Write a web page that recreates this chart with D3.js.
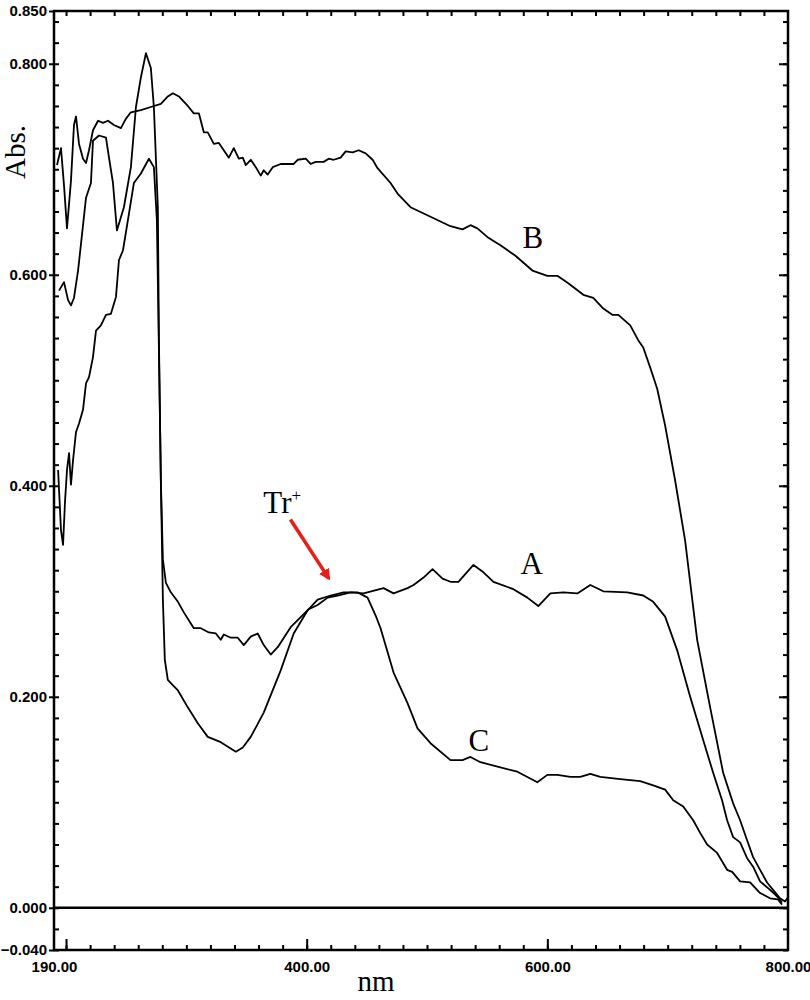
<!DOCTYPE html>
<html>
<head>
<meta charset="utf-8">
<script src="https://cdn.jsdelivr.net/npm/d3@7"></script>
<style>
  html, body { margin: 0; padding: 0; background: #fff; }
  svg { display: block; }
</style>
</head>
<body>
<svg id="chart" width="810" height="1000"></svg>
<script>
// ---------------- DATA ----------------
const yMajorTicks = [-0.04, 0.0, 0.2, 0.4, 0.6, 0.8, 0.85];
const xLabelTicks = [190, 400, 600, 800];
const xMajorMarks = [200, 400, 600];

// Curve B (upper)
const nmB = [192.5,195.8,198.3,200.8,204.1,206.6,208.3,210.8,214.1,216.6,219.1,222.4,226.6,230.7,234.9,239.8,245.6,249.8,253.9,262.2,270.5,278.8,284.6,288.8,293.8,301.2,306.2,310.4,314.5,317.8,322.8,327.0,335.3,339.4,343.6,346.9,349.4,353.5,357.7,361.8,364.3,367.6,371.8,378.4,389.2,392.5,399.2,403.3,407.5,414.1,418.3,422.4,428.2,432.4,438.2,443.2,449.0,454.8,458.9,469.7,475.5,486.3,502.9,519.5,529.5,536.1,541.9,551.0,561.0,573.5,587.6,600.0,608.3,617.4,629.9,638.2,646.5,654.0,659.0,668.9,675.5,679.7,685.5,691.3,697.9,706.2,714.5,724.5,735.3,746.1,754.4,760.2,766.0,771.0,776.8,782.6,787.6,793.4,797.5,800.0];
const absB = [0.704,0.720,0.685,0.644,0.689,0.742,0.750,0.724,0.710,0.706,0.718,0.737,0.746,0.744,0.746,0.742,0.739,0.748,0.754,0.756,0.759,0.762,0.769,0.772,0.769,0.760,0.753,0.753,0.735,0.735,0.724,0.725,0.711,0.720,0.710,0.711,0.704,0.709,0.702,0.694,0.699,0.695,0.702,0.705,0.705,0.709,0.710,0.705,0.707,0.707,0.710,0.709,0.711,0.717,0.716,0.718,0.715,0.709,0.701,0.687,0.677,0.664,0.655,0.646,0.643,0.647,0.644,0.635,0.628,0.618,0.604,0.599,0.599,0.592,0.581,0.578,0.568,0.562,0.562,0.552,0.538,0.531,0.512,0.492,0.457,0.405,0.348,0.254,0.190,0.128,0.099,0.083,0.064,0.048,0.036,0.024,0.017,0.009,0.006,0.010];

// Curve A (middle)
const nmA = [193.4,195.8,197.5,199.2,200.8,202.5,204.1,205.8,208.3,210.8,214.1,216.6,219.1,222.4,224.9,229.0,233.2,237.3,241.5,244.0,247.3,252.3,256.4,262.2,268.9,273.0,275.5,277.2,278.8,280.5,283.0,287.1,293.0,297.9,306.2,312.0,318.7,324.5,328.6,331.1,336.9,342.7,347.7,353.5,359.3,364.3,370.1,375.9,386.7,401.7,409.1,417.4,425.7,436.5,447.3,463.9,472.2,483.8,488.8,497.1,504.6,512.9,519.5,526.1,538.6,546.9,555.2,571.8,583.4,592.5,602.5,613.3,624.9,635.7,646.5,666.4,679.7,688.0,697.9,707.9,718.7,729.5,737.8,745.2,749.4,754.4,760.2,766.0,771.0,776.8,785.1,791.7,795.0];
const absA = [0.415,0.358,0.344,0.386,0.415,0.431,0.401,0.424,0.451,0.459,0.472,0.497,0.503,0.522,0.547,0.552,0.562,0.563,0.579,0.614,0.623,0.658,0.687,0.696,0.710,0.702,0.652,0.528,0.405,0.330,0.308,0.299,0.290,0.280,0.265,0.265,0.261,0.260,0.254,0.259,0.256,0.256,0.249,0.257,0.260,0.249,0.240,0.247,0.266,0.283,0.287,0.294,0.296,0.299,0.298,0.303,0.298,0.303,0.306,0.313,0.321,0.312,0.309,0.309,0.325,0.318,0.309,0.302,0.294,0.286,0.298,0.299,0.298,0.306,0.300,0.299,0.296,0.290,0.276,0.244,0.200,0.159,0.128,0.102,0.083,0.067,0.062,0.047,0.039,0.025,0.017,0.010,0.005];

// Curve C (lower)
const nmC = [194.2,198.3,201.7,204.1,206.6,210.0,212.5,216.6,220.7,222.4,227.4,233.2,235.7,239.0,242.3,248.1,253.9,258.1,262.2,266.4,270.5,273.0,276.3,277.2,278.8,280.5,282.1,284.6,287.1,293.0,301.2,309.5,317.8,328.6,341.1,346.9,353.5,364.3,378.4,389.2,400.8,409.1,419.9,430.7,442.3,450.6,457.3,461.4,472.2,483.8,492.1,502.9,519.5,529.5,536.1,544.4,561.0,575.1,591.7,600.0,608.3,619.1,627.4,635.7,644.0,660.6,677.2,688.0,697.9,704.6,712.9,721.2,727.0,732.8,741.1,749.4,753.6,760.2,768.5,776.8,785.1,791.7,795.0];
const absC = [0.585,0.593,0.576,0.571,0.578,0.604,0.630,0.673,0.687,0.727,0.732,0.730,0.711,0.687,0.642,0.664,0.702,0.759,0.787,0.810,0.796,0.759,0.664,0.538,0.405,0.292,0.235,0.216,0.213,0.206,0.190,0.175,0.162,0.157,0.148,0.152,0.162,0.185,0.225,0.260,0.282,0.292,0.296,0.299,0.299,0.294,0.277,0.265,0.223,0.194,0.170,0.156,0.140,0.140,0.143,0.138,0.133,0.129,0.119,0.126,0.126,0.124,0.124,0.127,0.124,0.122,0.120,0.116,0.112,0.102,0.096,0.083,0.071,0.060,0.052,0.036,0.034,0.025,0.024,0.014,0.009,0.008,0.003];

// Zero baseline
const baselineNm = [190, 800];
const baselineAbs = [0, 0];

// Curve labels
const curveLabelNames = ["B", "A", "C"];
const curveLabelNm = [588, 587, 543];
const curveLabelAbs = [0.625, 0.316, 0.149];

// ---------------- CHART ----------------
const svg = d3.select("#chart");
const mLeft = 54, mRight = 788, mTop = 11, mBottom = 950;

const x = d3.scaleLinear().domain([190, 800]).range([mLeft, mRight]);
const y = d3.scaleLinear().domain([-0.04, 0.85]).range([mBottom, mTop]);

const labelFont = "'Liberation Sans', Arial, sans-serif";
const serif = "'Liberation Serif', 'Times New Roman', serif";

// Zero baseline
svg.append("path")
  .datum(d3.zip(baselineNm, baselineAbs))
  .attr("d", d3.line().x(d => x(d[0])).y(d => y(d[1])))
  .attr("stroke", "#000").attr("stroke-width", 2.4).attr("fill", "none");

// Curves
const line = d3.line().x(d => x(d[0])).y(d => y(d[1]));
[[nmA, absA], [nmB, absB], [nmC, absC]].forEach(([xs, ys]) => {
  svg.append("path")
    .datum(d3.zip(xs, ys))
    .attr("d", line)
    .attr("fill", "none")
    .attr("stroke", "#000")
    .attr("stroke-width", 1.8)
    .attr("stroke-linejoin", "round");
});

// Minor tick values
const yMinor = d3.range(-0.04, 0.8501, 0.02).map(v => +v.toFixed(2));
const xMinor = d3.range(200, 790, 20);

function styleAxis(g) {
  g.select(".domain").remove();
  g.selectAll(".tick line").attr("stroke", "#000").attr("stroke-width", 2);
}

// Left: minor inward
svg.append("g").attr("transform", `translate(${mLeft},0)`)
  .call(d3.axisRight(y).tickValues(yMinor).tickSize(5).tickFormat(""))
  .call(styleAxis);
// Left: labeled majors outward
svg.append("g").attr("transform", `translate(${mLeft},0)`)
  .call(d3.axisLeft(y).tickValues(yMajorTicks).tickSize(5).tickPadding(2).tickFormat(d3.format(".3f")))
  .call(styleAxis)
  .call(g => g.selectAll("text").attr("font-family", labelFont).attr("font-weight", "bold").attr("font-size", 15).attr("fill", "#000"));

// Right: minor inward
svg.append("g").attr("transform", `translate(${mRight},0)`)
  .call(d3.axisLeft(y).tickValues(yMinor).tickSize(5).tickFormat(""))
  .call(styleAxis);
svg.append("g").attr("transform", `translate(${mRight},0)`)
  .call(d3.axisLeft(y).tickValues(yMajorTicks.slice(1, 6)).tickSize(9).tickFormat(""))
  .call(styleAxis);

// Bottom: inward ticks
svg.append("g").attr("transform", `translate(0,${mBottom})`)
  .call(d3.axisTop(x).tickValues(xMinor).tickSize(5).tickFormat(""))
  .call(styleAxis);
svg.append("g").attr("transform", `translate(0,${mBottom})`)
  .call(d3.axisTop(x).tickValues(xMajorMarks).tickSize(11).tickFormat(""))
  .call(styleAxis);
// Bottom labels
svg.append("g").attr("transform", `translate(0,${mBottom})`)
  .call(d3.axisBottom(x).tickValues(xLabelTicks).tickSize(0).tickPadding(11).tickFormat(d3.format(".2f")))
  .call(styleAxis)
  .call(g => g.selectAll("text").attr("font-family", labelFont).attr("font-weight", "bold").attr("font-size", 15).attr("fill", "#000"));

// Top: inward ticks
svg.append("g").attr("transform", `translate(0,${mTop})`)
  .call(d3.axisBottom(x).tickValues(xMinor).tickSize(5).tickFormat(""))
  .call(styleAxis);

// Frame
svg.append("rect")
  .attr("x", mLeft).attr("y", mTop)
  .attr("width", mRight - mLeft).attr("height", mBottom - mTop)
  .attr("fill", "none").attr("stroke", "#000").attr("stroke-width", 2.5);

// Axis titles
svg.append("text")
  .attr("transform", `translate(25,152) rotate(-90)`)
  .attr("text-anchor", "middle")
  .attr("font-family", serif).attr("font-size", 29)
  .text("Abs.");
svg.append("text")
  .attr("x", 376).attr("y", 991)
  .attr("text-anchor", "middle")
  .attr("font-family", serif).attr("font-size", 29)
  .text("nm");

// Curve labels
curveLabelNames.forEach((name, i) => {
  svg.append("text")
    .attr("x", x(curveLabelNm[i])).attr("y", y(curveLabelAbs[i]))
    .attr("text-anchor", "middle")
    .attr("font-family", serif).attr("font-size", 31)
    .text(name);
});

// Tr+ annotation
const tr = svg.append("text")
  .attr("x", x(364)).attr("y", y(0.374))
  .attr("font-family", serif).attr("font-size", 31)
  .text("Tr");
tr.append("tspan").attr("font-size", 17).attr("dy", -12).text("+");

// Red arrow
const defs = svg.append("defs");
defs.append("marker")
  .attr("id", "arrowhead")
  .attr("viewBox", "0 0 10 10")
  .attr("refX", 8).attr("refY", 5)
  .attr("markerWidth", 3.2).attr("markerHeight", 3.2)
  .attr("orient", "auto")
  .append("path").attr("d", "M0,0 L10,5 L0,10 Z").attr("fill", "#e3201b");
svg.append("line")
  .attr("x1", x(386.5)).attr("y1", y(0.368))
  .attr("x2", x(418.5)).attr("y2", y(0.312))
  .attr("stroke", "#e3201b").attr("stroke-width", 3.6)
  .attr("marker-end", "url(#arrowhead)");
</script>
</body>
</html>
